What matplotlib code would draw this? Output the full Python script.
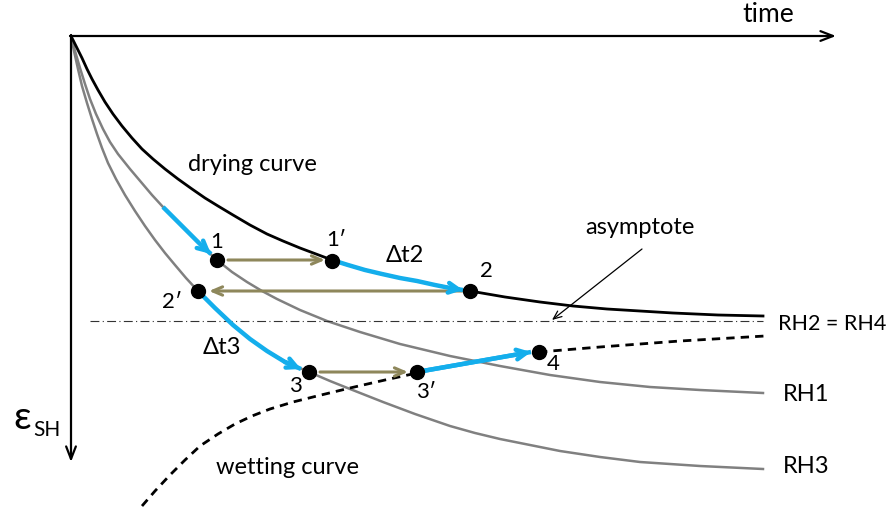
"""
Schematic: drying / wetting shrinkage curves under changing RH.
Drawn in pixel coordinates of the original figure (y goes down).
"""

import numpy as np
import matplotlib.pyplot as plt

plt.rcParams['font.family'] = ['Lato', 'DejaVu Sans']

#############
############# Curve points (x, y in pixels, y down)
#############

drying_x = [71, 76, 82, 87, 92, 98, 105, 113, 122, 132, 142, 153, 165, 178, 192, 205, 218, 233, 250, 267,
            283, 300, 316, 332, 348, 365, 382, 400, 417, 435, 452, 470, 505, 540, 573, 607, 640, 673, 718, 763]
drying_y = [37, 47, 59, 70, 80, 91, 103, 115, 127, 139, 150, 160, 170, 180, 190, 199, 207, 216, 226, 235,
            242, 249, 255, 261, 266, 271, 275, 279, 282, 286, 289, 292, 298, 303, 307, 310, 312, 314, 316, 317]

rh1_x = [71, 75, 80, 85, 90, 96, 103, 110, 118, 130, 141, 152, 163, 177, 190, 203, 217, 232, 247, 262,
         277, 300, 327, 360, 400, 450, 500, 550, 600, 650, 700, 763]
rh1_y = [37, 52, 69, 85, 100, 115, 130, 143, 155, 170, 183, 196, 208, 222, 235, 248, 261, 273, 283, 292,
         300, 311, 322, 333, 345, 357, 367, 376, 383, 388, 391, 394]

rh3_x = [71, 74, 78, 82, 87, 92, 97, 102, 108, 116, 125, 135, 145, 155, 165, 175, 186, 198, 215, 233,
         250, 267, 288, 309, 330, 350, 383, 415, 450, 475, 500, 560, 600, 640, 700, 763]
rh3_y = [37, 52, 70, 87, 104, 120, 135, 149, 164, 180, 196, 212, 227, 241, 254, 266, 279, 292, 309, 326,
         340, 352, 364, 373, 382, 390, 403, 415, 427, 434, 440, 452, 458, 463, 467, 470]

wet_low_x = [142, 155, 170, 185, 200, 218, 235, 252, 270, 293, 317, 350, 385, 417]
wet_low_y = [507, 492, 476, 461, 447, 435, 425, 417, 410, 403, 397, 389, 381, 374]
wet_high_x = [539, 600, 680, 765]
wet_high_y = [353, 348, 342, 337]

asym_x = [90, 763]
asym_y = [322, 322]

# state points
pt_names = ['1', "1'", '2', "2'", '3', "3'", '4']
pt_x = [217, 332, 470, 198, 309, 417, 539]
pt_y = [261, 262, 292, 292, 373, 373, 353]
lab_x = [217, 336, 486, 172, 295, 426, 553]
lab_y = [242, 240, 271, 302, 386, 392, 364]

# blue paths (follow the curves)
blue_a_x = [163, 177, 190, 203, 211]
blue_a_y = [208, 222, 235, 248, 255]
blue_b_x = [332, 348, 365, 382, 400, 417, 435, 450, 463]
blue_b_y = [261, 266, 271, 275, 279, 282, 286, 289, 291]
blue_c_x = [198, 215, 233, 250, 267, 285, 301]
blue_c_y = [292, 309, 326, 340, 352, 363, 370]
blue_d_x = [417, 531]
blue_d_y = [373, 353]

# olive "jump" arrows: (start, end)
jumps = [((228, 261), (325, 261)),
         ((462, 292), (209, 292)),
         ((320, 373), (408, 373))]

blue = '#14AEEC'
olive = '#8E875B'
gray = '#808080'

fig = plt.figure(figsize=(8.93, 5.10), dpi=100)
ax = fig.add_axes([0, 0, 1, 1])
ax.set_xlim(0, 893)
ax.set_ylim(510, 0)
ax.axis('off')

# axes arrows
ax.annotate('', xy=(836, 37), xytext=(70, 37),
            arrowprops=dict(arrowstyle='->,head_length=0.9,head_width=0.35', lw=1.6, color='black',
                            shrinkA=0, shrinkB=0))
ax.annotate('', xy=(71, 463), xytext=(71, 36),
            arrowprops=dict(arrowstyle='->,head_length=0.9,head_width=0.35', lw=1.6, color='black',
                            shrinkA=0, shrinkB=0))

# curves
ax.plot(rh1_x, rh1_y, color=gray, lw=1.8, solid_joinstyle='round')
ax.plot(rh3_x, rh3_y, color=gray, lw=1.8, solid_joinstyle='round')
ax.plot(drying_x, drying_y, color='black', lw=2.0, solid_joinstyle='round')
ax.plot(wet_low_x, wet_low_y, color='black', lw=2.0, ls=(0, (3, 2.2)))
ax.plot(wet_high_x, wet_high_y, color='black', lw=2.0, ls=(0, (3, 2.2)))
ax.plot(asym_x, asym_y, color='#333333', lw=0.8, ls=(0, (8, 3, 1, 3)))

# blue paths with heads
for bx, by in [(blue_a_x, blue_a_y), (blue_b_x, blue_b_y),
               (blue_c_x, blue_c_y), (blue_d_x, blue_d_y)]:
    ax.plot(bx, by, color=blue, lw=3.2, solid_capstyle='butt', solid_joinstyle='round', zorder=4)
    ax.annotate('', xy=(bx[-1], by[-1]), xytext=(bx[-2], by[-2]),
                arrowprops=dict(arrowstyle='->,head_length=0.7,head_width=0.35', lw=3.2,
                                color=blue, shrinkA=0, shrinkB=0), zorder=4)

# olive jumps
for (x0, y0), (x1, y1) in jumps:
    ax.annotate('', xy=(x1, y1), xytext=(x0, y0),
                arrowprops=dict(arrowstyle='->,head_length=0.7,head_width=0.3', lw=2.2,
                                color=olive, shrinkA=0, shrinkB=0), zorder=3)

# state points
ax.plot(pt_x, pt_y, 'o', color='black', ms=10, zorder=5)

for name, lx, ly in zip(pt_names, lab_x, lab_y):
    ax.text(lx, ly, name.replace("'", '\u2032'), fontsize=16, ha='center', va='center')

# asymptote pointer
ax.annotate('', xy=(552, 321), xytext=(642, 250),
            arrowprops=dict(arrowstyle='->,head_length=0.6,head_width=0.25', lw=0.9,
                            color='black', shrinkA=0, shrinkB=0))

txt = dict(fontsize=17, ha='center', va='center')
ax.text(768, 15, 'time', fontsize=19, ha='center', va='center')
ax.text(252, 165, 'drying curve', **txt)
ax.text(287, 468, 'wetting curve', **txt)
ax.text(640, 228, 'asymptote', **txt)
ax.text(405, 256, '\u0394t2', **txt)
ax.text(222, 348, '\u0394t3', **txt)
ax.text(778, 324, 'RH2 = RH4', fontsize=15.5, ha='left', va='center')
ax.text(783, 395, 'RH1', fontsize=17, ha='left', va='center')
ax.text(783, 467, 'RH3', fontsize=17, ha='left', va='center')
ax.text(22, 418, '\u03b5', fontsize=28, ha='center', va='center')
ax.text(33, 430, 'SH', fontsize=15, ha='left', va='center')

fig.savefig('out.png', dpi=100)
